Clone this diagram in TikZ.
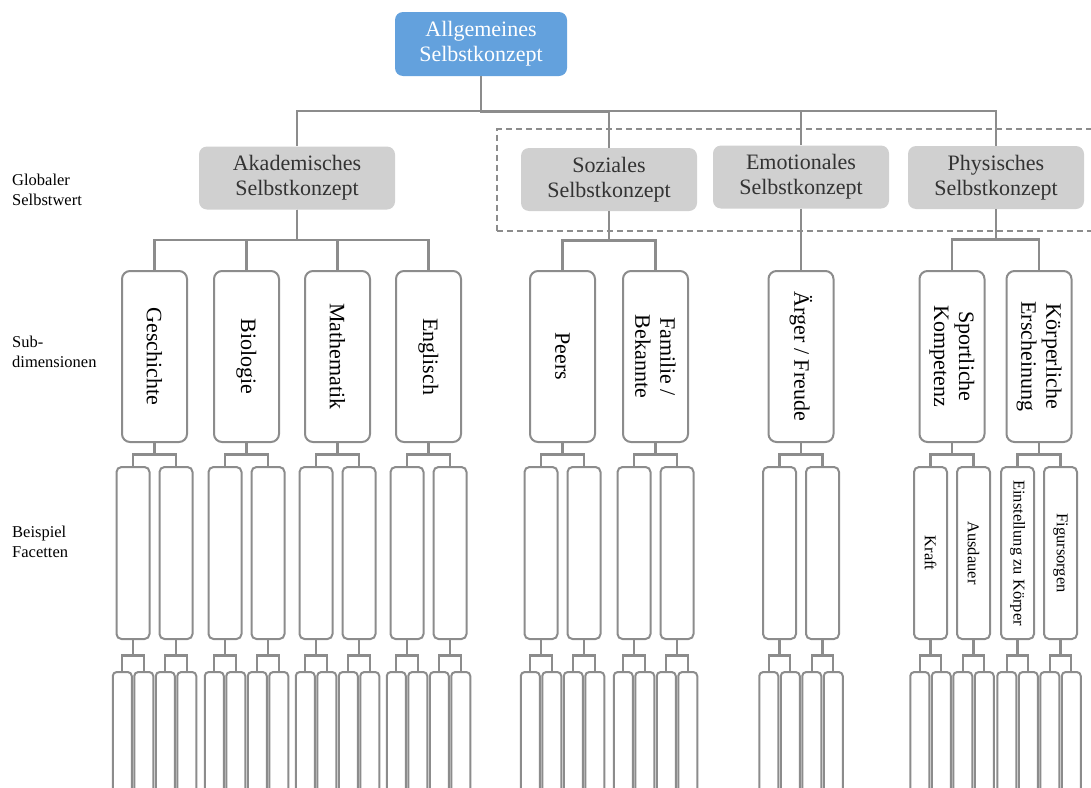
\documentclass[tikz,border=0pt]{standalone}
\usepackage{fontspec}
\setmainfont{Liberation Serif}
\usepackage{tikz}
\usetikzlibrary{
  positioning,
  calc,
  fit
}
\definecolor{topblue}{HTML}{63A1DD}
\definecolor{boxgray}{HTML}{D0D0D0}
\definecolor{linegray}{HTML}{8C8C8C}
\newcommand{\bigfont}{\fontsize{22}{25}\selectfont}
\newcommand{\smallfont}{\fontsize{16.5}{20}\selectfont}
\tikzset{
  link/.style={draw=linegray,line width=2.4pt,
    to path={(\tikztostart) -- ($(\tikztostart)!.5!(\tikztostart |- \tikztotarget)$) -| (\tikztotarget)}},
  rootbox/.style={rectangle,rounded corners=8pt,fill=topblue,text=white,align=center,font=\bigfont,minimum width=172pt,minimum height=64pt,inner sep=2pt},
  areabox/.style={rectangle,rounded corners=8pt,fill=boxgray,text=black!80,align=center,font=\bigfont,minimum width=176pt,minimum height=63pt,inner sep=2pt},
  subbox/.style={rectangle,draw=linegray,line width=2pt,rounded corners=8pt,fill=white,minimum width=65pt,minimum height=171pt,inner sep=0pt},
  subtext/.style={rotate=-90,align=center,font=\bigfont,inner sep=0pt},
  facetbox/.style={rectangle,draw=linegray,line width=2pt,rounded corners=5pt,fill=white,minimum width=33pt,minimum height=172pt,inner sep=0pt},
  facettext/.style={rotate=-90,font=\smallfont,inner sep=0pt},
  leafbox/.style={rectangle,draw=linegray,line width=2pt,rounded corners=4pt,fill=white,minimum width=19pt,minimum height=160pt,inner sep=0pt},
  dashgroup/.style={draw=linegray,line width=1.8pt,dash pattern=on 6pt off 4pt,inner xsep=24pt,inner ysep=18pt,yshift=-2pt},
  rowlabel/.style={anchor=west,align=left,font=\smallfont,inner sep=0pt}
}

\begin{document}
\begin{tikzpicture}[x=1pt,y=-1pt]
    \useasboundingbox (0,0) rectangle (1091,787);
    \clip (0,0) rectangle (1091,787);

    % Ebenen (links)
    \node[rowlabel] (lab1) at (12,190) {Globaler\\Selbstwert};
    \node[rowlabel] (lab2) at (12,352) {Sub-\\dimensionen};
    \node[rowlabel] (lab3) at (12,542) {Beispiel\\Facetten};

    % Spitze und Bereiche
    \node[rootbox] (allg) at (481,44) {Allgemeines\\Selbstkonzept};
    \node[areabox,minimum width=196pt] (akad) at (297,178) {Akademisches\\Selbstkonzept};
    \node[areabox] (soz) at (609,179.5) {Soziales\\Selbstkonzept};
    \node[areabox] (emo) at (801,177) {Emotionales\\Selbstkonzept};
    \node[areabox] (phys) at (996,177.5) {Physisches\\Selbstkonzept};
    \node[dashgroup,fit=(soz)(emo)(phys)] (nichtakad) {};

    % Subdimensionen
    \foreach \s/\x/\t in {gesch/154.5/Geschichte, bio/246.5/Biologie, mathe/337.5/Mathematik,
        engl/428.5/Englisch, peers/562.5/Peers, fam/655.5/{Familie /\\Bekannte},
        aerger/801/{Ärger / Freude}, sport/952/{Sportliche\\Kompetenz},
        koerper/1039/{Körperliche\\Erscheinung}}
        \node[subbox,label={[subtext]center:\t}] (\s) at (\x,356.5) {};

    \foreach \c in {akad,soz,emo,phys} \draw[link] (allg.south) to (\c.north);
    \foreach \c in {gesch,bio,mathe,engl} \draw[link] (akad.south) to (\c.north);
    \foreach \c in {peers,fam} \draw[link] (soz.south) to (\c.north);
    \draw[link] (emo.south) to (aerger.north);
    \foreach \c in {sport,koerper} \draw[link] (phys.south) to (\c.north);

    % Facetten und darunter
    \foreach \s/\x in {gesch/154.5,bio/246.5,mathe/337.5,engl/428.5,peers/562.5,fam/655.5,aerger/801,sport/952,koerper/1039} {
        \node[facetbox] (\s-1) at (\x-21.5,553) {};
        \node[facetbox] (\s-2) at (\x+21.5,553) {};
        \foreach \i in {1,2} {
            \node[leafbox] (\s-\i-1) at ($(\s-\i.center)+(-10.75,199)$) {};
            \node[leafbox] (\s-\i-2) at ($(\s-\i.center)+(10.75,199)$) {};
            \draw[link] (\s.south) to (\s-\i.north);
            \draw[link] (\s-\i.south) to (\s-\i-1.north);
            \draw[link] (\s-\i.south) to (\s-\i-2.north);
        }
    }

    \node[facettext] (kraft) at (sport-1) {Kraft};
    \node[facettext] (ausdauer) at (sport-2) {Ausdauer};
    \node[facettext] (einst) at (koerper-1) {Einstellung zu Körper};
    \node[facettext] (figur) at (koerper-2) {Figursorgen};
\end{tikzpicture}
\end{document}
